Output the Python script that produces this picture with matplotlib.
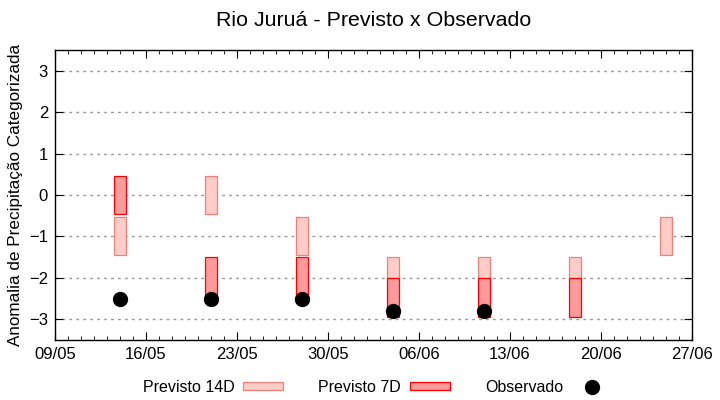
import matplotlib
matplotlib.use("Agg")
import matplotlib.pyplot as plt
import matplotlib.dates as mdates
from matplotlib.patches import Patch
from matplotlib.lines import Line2D
import datetime as dt

plt.rcParams['font.family'] = ['Liberation Sans', 'DejaVu Sans']

# datas das previsoes (2023)
datas = ['14/05', '21/05', '28/05', '04/06', '11/06', '18/06', '25/06']

# Previsto 14D (limite inferior, superior)
p14_inf = [-1.45, -0.45, -1.45, -2.0, -2.0, -2.0, -1.45]
p14_sup = [-0.52, 0.45, -0.52, -1.5, -1.5, -1.5, -0.52]

# Previsto 7D (None = sem previsao)
p7_inf = [-0.45, -2.6, -2.6, -2.95, -2.95, -2.95, None]
p7_sup = [0.45, -1.5, -1.5, -2.0, -2.0, -2.0, None]

# Observado
obs_datas = ['14/05', '21/05', '28/05', '04/06', '11/06']
obs = [-2.5, -2.5, -2.5, -2.8, -2.8]

# rotulos do eixo x
xticks = ['09/05', '16/05', '23/05', '30/05', '06/06', '13/06', '20/06', '27/06']

ano = 2023
def conv(s):
    d, m = s.split('/')
    return mdates.date2num(dt.date(ano, int(m), int(d)))

x = [conv(d) for d in datas]
xo = [conv(d) for d in obs_datas]

fig = plt.figure(figsize=(7.2, 4), dpi=100)
ax = fig.add_axes([55/720, 60/400, (692-55)/720, (340-50)/400])

larg = 0.92
cor14_face, cor14_borda = '#ffccc7', '#f08078'
cor7_face, cor7_borda = '#ff9a9a', '#ff0000'

for xi, lo, hi in zip(x, p14_inf, p14_sup):
    ax.bar(xi, hi - lo, bottom=lo, width=larg, color=cor14_face,
           edgecolor=cor14_borda, linewidth=0.9, zorder=2)
for xi, lo, hi in zip(x, p7_inf, p7_sup):
    if lo is None:
        continue
    ax.bar(xi, hi - lo, bottom=lo, width=larg, color=cor7_face,
           edgecolor=cor7_borda, linewidth=0.9, zorder=3)
ax.plot(xo, obs, 'o', color='black', markersize=10, zorder=4)

ax.set_ylim(-3.5, 3.5)
ax.set_yticks(range(-3, 4))
ax.set_xlim(conv(xticks[0]), conv(xticks[-1]))
ax.set_xticks([conv(t) for t in xticks])
ax.set_xticklabels(xticks)
ax.xaxis.set_minor_locator(mdates.DayLocator())
ax.tick_params(direction='in', which='both', top=True, right=True, labelsize=12)
ax.tick_params(which='major', length=6, pad=5)
ax.tick_params(which='minor', length=3)
ax.grid(axis='y', linestyle=(0, (2, 3)), color='#999999', linewidth=1, zorder=0)
ax.set_axisbelow(True)
for s in ax.spines.values():
    s.set_linewidth(1.0)

ax.set_ylabel('Anomalia de Precipitação Categorizada', fontsize=12.3, labelpad=4)
ax.set_title('Rio Juruá - Previsto x Observado', fontsize=15.4, pad=17)

handles = [
    Patch(facecolor=cor14_face, edgecolor=cor14_borda, linewidth=0.9),
    Patch(facecolor=cor7_face, edgecolor=cor7_borda, linewidth=0.9),
    Line2D([], [], marker='o', color='black', linestyle='none', markersize=10),
]
fig.legend(handles, ['Previsto 14D', 'Previsto 7D', 'Observado'], ncol=3,
           loc='center', bbox_to_anchor=(0.524, 0.032), frameon=False,
           markerfirst=False, fontsize=11.5, handlelength=2.5, handleheight=0.4,
           columnspacing=2.2, handletextpad=0.55)

fig.savefig('out.png', dpi=100)
